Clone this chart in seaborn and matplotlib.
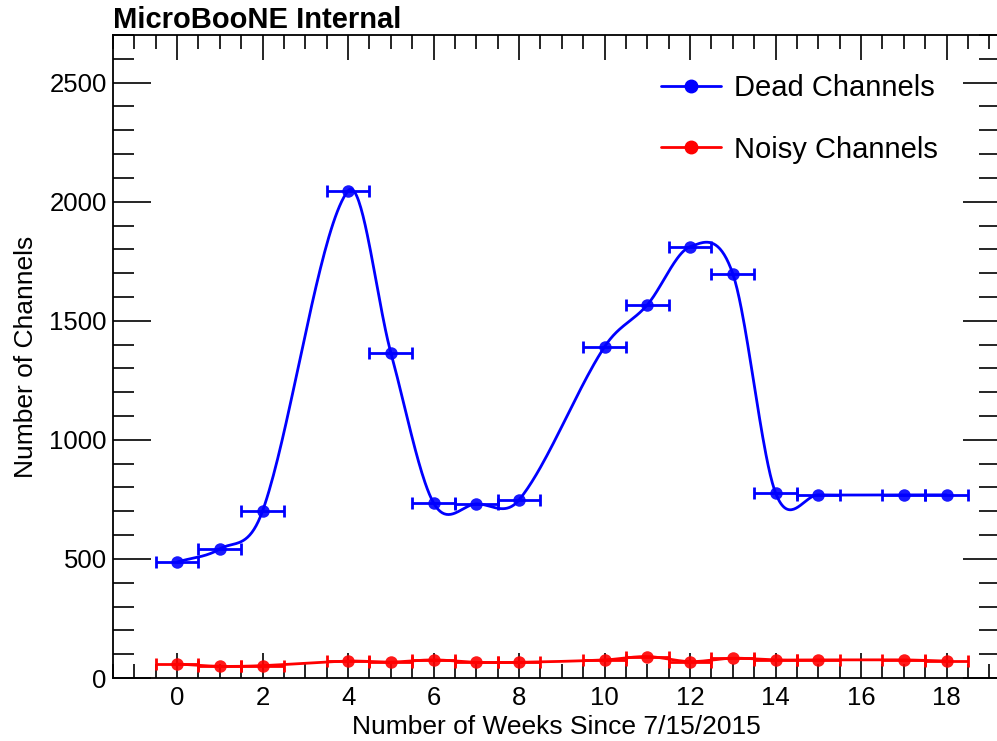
import numpy as np
import pandas as pd
import matplotlib
matplotlib.use("Agg")
import matplotlib.pyplot as plt
from matplotlib.lines import Line2D
from matplotlib.ticker import MultipleLocator
import seaborn as sns

# datos
semanas = [0, 1, 2, 4, 5, 6, 7, 8, 10, 11, 12, 13, 14, 15, 17, 18]
canales_muertos = [487, 542, 702, 2046, 1366, 735, 731, 748, 1391, 1567, 1811, 1697, 777, 769, 769, 769]
canales_ruidosos = [59, 49, 52, 71, 67, 76, 66, 66, 76, 90, 69, 83, 76, 76, 76, 71]
error_semana = 0.5

AZUL = "#0000ff"
ROJO = "#ff0000"


def curva_suave(x, y, pasos=40):
    """Curva suave tipo Catmull-Rom (parecida a la opcion 'C' de ROOT) que pasa por los puntos."""
    x = np.asarray(x, float)
    y = np.asarray(y, float)
    m = np.zeros_like(y)
    m[1:-1] = (y[2:] - y[:-2]) / (x[2:] - x[:-2])
    m[0] = (y[1] - y[0]) / (x[1] - x[0])
    m[-1] = (y[-1] - y[-2]) / (x[-1] - x[-2])
    xs, ys = [], []
    for i in range(len(x) - 1):
        h = x[i + 1] - x[i]
        t = np.linspace(0, 1, pasos, endpoint=False)
        h00 = 2 * t**3 - 3 * t**2 + 1
        h10 = t**3 - 2 * t**2 + t
        h01 = -2 * t**3 + 3 * t**2
        h11 = t**3 - t**2
        xs.append(x[i] + t * h)
        ys.append(h00 * y[i] + h10 * h * m[i] + h01 * y[i + 1] + h11 * h * m[i + 1])
    xs.append([x[-1]])
    ys.append([y[-1]])
    return np.concatenate(xs), np.concatenate(ys)


sns.set_style("ticks")
plt.rcParams['font.family'] = ['Liberation Sans', 'DejaVu Sans']
plt.rcParams['text.color'] = 'black'
plt.rcParams['axes.labelcolor'] = 'black'
plt.rcParams['xtick.color'] = 'black'
plt.rcParams['ytick.color'] = 'black'

fig = plt.figure(figsize=(9.97, 7.41), dpi=100)
ax = fig.add_axes([113 / 997, 63 / 741, (1000 - 113) / 997, (678 - 35) / 741])

for valores, color in [(canales_muertos, AZUL), (canales_ruidosos, ROJO)]:
    xs, ys = curva_suave(semanas, valores)
    curva = pd.DataFrame({"semana": xs, "canales": ys})
    sns.lineplot(data=curva, x="semana", y="canales", color=color, linewidth=2.0,
                 ax=ax, estimator=None, sort=False)
    # barras horizontales de +-0.5 semanas con topes
    ax.errorbar(semanas, valores, xerr=error_semana, fmt="none", ecolor=color,
                elinewidth=2.0, capsize=4.5, capthick=2.0)
    ax.plot(semanas, valores, "o", color=color, markersize=9, markeredgewidth=0, alpha=0.9)

ax.set_xlim(-1.5, 19.25)
ax.set_ylim(0, 2700)
ax.xaxis.set_major_locator(MultipleLocator(2))
ax.xaxis.set_minor_locator(MultipleLocator(0.5))
ax.yaxis.set_major_locator(MultipleLocator(500))
ax.yaxis.set_minor_locator(MultipleLocator(100))
ax.tick_params(which="both", direction="in", top=True, right=True, width=1.2)
ax.tick_params(axis="y", which="major", length=27, labelsize=18.5, pad=4.5)
ax.tick_params(axis="y", which="minor", length=15)
ax.tick_params(axis="x", which="major", length=18, labelsize=18.5, pad=6)
ax.tick_params(axis="x", which="minor", length=10)
for s in ax.spines.values():
    s.set_linewidth(1.3)
    s.set_color("black")

ax.set_xlabel("Number of Weeks Since 7/15/2015", fontsize=19, labelpad=3)
ax.set_ylabel("Number of Channels", fontsize=19, labelpad=8)

fig.text(113 / 997, 1 - 28 / 741, "MicroBooNE Internal", fontsize=21, fontweight="bold",
         ha="left", va="baseline")

handles = [Line2D([], [], color=AZUL, linewidth=2, marker="o", markersize=9),
           Line2D([], [], color=ROJO, linewidth=2, marker="o", markersize=9)]
ax.legend(handles, ["Dead Channels", "Noisy Channels"], frameon=False, fontsize=21,
          loc="upper left", bbox_to_anchor=(0.588, 0.98), handlelength=2.05,
          handletextpad=0.45, labelspacing=1.15)

fig.savefig("out.png", dpi=100)
